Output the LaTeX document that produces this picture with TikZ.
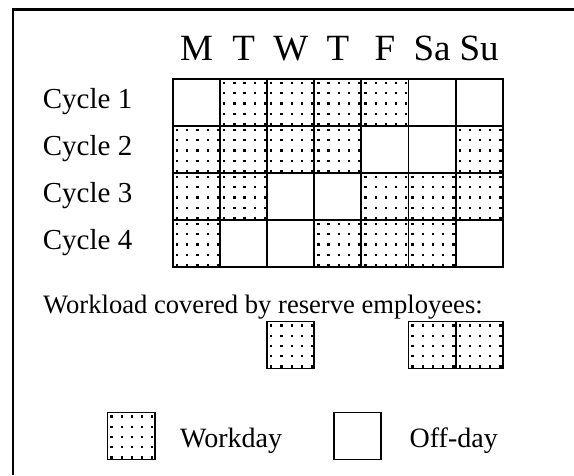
\documentclass[tikz,border=0pt]{standalone}
\usepackage{fontspec}
\setmainfont{Liberation Serif}
\usepackage{tikz}
\usetikzlibrary{positioning,calc}

\begin{document}
\begin{tikzpicture}[
  x=1pt, y=-1pt,
  cell/.style={draw, line width=1.9pt, inner sep=0pt, outer sep=0pt,
               minimum width=47.1pt, minimum height=47pt},
  work/.style={path picture={
      \foreach \i in {0,...,4}
        \foreach \j in {0,...,4}
          \fill ([xshift=2.9pt+\i*10.2pt, yshift=-2.9pt-\j*10.2pt]path picture bounding box.north west)
            rectangle ++(2.3pt,-2.3pt);}},
  off/.style={},
  day/.style={anchor=base, inner sep=0pt, font=\fontsize{37}{40}\selectfont},
  lbl/.style={anchor=base west, inner sep=0pt, font=\fontsize{29}{32}\selectfont},
  txt/.style={anchor=base west, inner sep=0pt, font=\fontsize{28}{31}\selectfont}]
\useasboundingbox (0,0) rectangle (574,475);
% frame
\draw[line width=2.5pt] (574,9.5) -- (13,9.5) -- (13,475);
% roster
\foreach \r/\days in {1/{off,work,work,work,work,off,off},
                      2/{work,work,work,work,off,off,work},
                      3/{work,work,off,off,work,work,work},
                      4/{work,off,off,work,work,work,off}} {
  \node[lbl] (cyc-\r) at (42.7,{61+47*\r}) {Cycle \r};
  \foreach \d [count=\c] in \days
    \node[cell,\d] (c-\r-\c) at ({149.45+47.1*\c},{55.5+47*\r}) {};
}
\foreach \n [count=\c] in {M,T,W,T,F,Sa,Su}
  \node[day] (d-\c) at ({149.45+47.1*\c},60) {\n};
% reserve
\node[anchor=base west, inner sep=0pt, font=\fontsize{26.6}{29}\selectfont] (res) at (43,313)
  {Workload covered by reserve employees:};
\node[cell,work] (res-1) at (290.75,345) {};
\node[cell,work] (res-2) at (432.05,345) {};
\node[cell,work] (res-3) at (479.15,345) {};
% legend
\node[cell,work] (leg-w) at (131,436) {};
\node[txt] (leg-wt) at (180,447) {Workday};
\node[cell,off] (leg-o) at (357.5,436) {};
\node[txt] (leg-ot) at (409.5,447) {Off-day};
\end{tikzpicture}
\end{document}
